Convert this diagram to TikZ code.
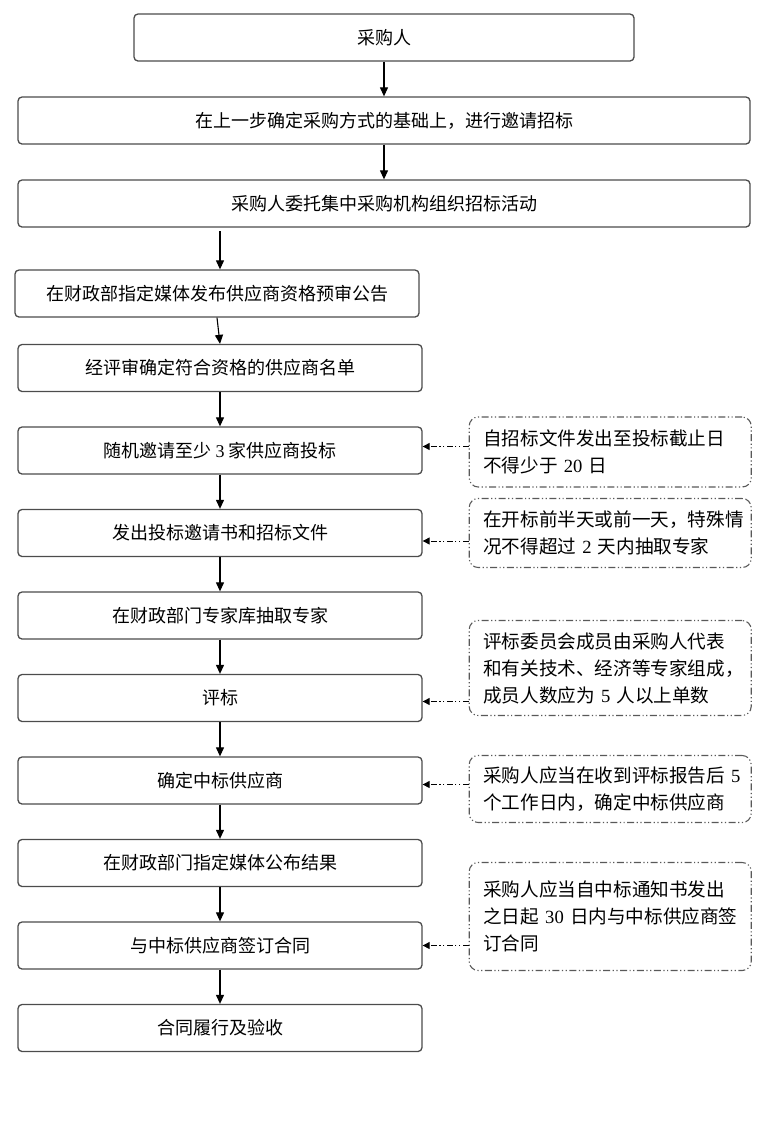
\documentclass[tikz,border=0pt]{standalone}
\usepackage{fontspec}
\setmainfont{Noto Sans CJK SC}
\newfontfamily\numfont{Liberation Serif}
\usepackage{tikz}
\usetikzlibrary{arrows.meta, positioning}

\begin{document}
\begin{tikzpicture}[
  x=1pt, y=-1pt,
  every path/.style={line width=1pt},
  link/.style={-{Triangle[length=9pt, width=8pt]}, black, line width=1.1pt},
  hint/.style={-{Triangle[length=7pt, width=7pt]}, black,
               dash pattern=on 6pt off 2.5pt on 1.2pt off 2.5pt on 1.2pt off 2.5pt},
  blk/.style={rectangle, rounded corners=4pt, draw=black!70, line width=1.3pt,
              minimum height=47pt, inner sep=0pt,
              font=\fontsize{18}{22}\selectfont},
  wide/.style={blk, minimum width=732pt},
  narrow/.style={blk, minimum width=404pt},
  note/.style={rectangle, rounded corners=9pt, draw=black!65, line width=1.1pt,
               dash pattern=on 7pt off 2.5pt on 1.2pt off 2.5pt on 1.2pt off 2.5pt,
               text width=254pt, inner xsep=14pt, inner ysep=0pt, align=left,
               font=\fontsize{18.6}{27}\selectfont},
]
\useasboundingbox (0,0) rectangle (768,1144);

% main column
\node[blk, minimum width=500pt] at (384,37.5) (s1)  {采购人};
\node[wide, below=34.7pt of s1]   (s2)  {在上一步确定采购方式的基础上，进行邀请招标};
\node[wide, below=34.7pt of s2]   (s3)  {采购人委托集中采购机构组织招标活动};
\node[narrow] at (217,293.5)    (s4)  {在财政部指定媒体发布供应商资格预审公告};
\node[narrow] at (220,368)      (s5)  {经评审确定符合资格的供应商名单};
\node[narrow, below=34.2pt of s5]  (s6)  {随机邀请至少 {\numfont 3} 家供应商投标};
\node[narrow, below=34.2pt of s6]  (s7)  {发出投标邀请书和招标文件};
\node[narrow, below=34.2pt of s7]  (s8)  {在财政部门专家库抽取专家};
\node[narrow, below=34.2pt of s8]  (s9)  {评标};
\node[narrow, below=34.2pt of s9]  (s10) {确定中标供应商};
\node[narrow, below=34.2pt of s10] (s11) {在财政部门指定媒体公布结果};
\node[narrow, below=34.2pt of s11] (s12) {与中标供应商签订合同};
\node[narrow, below=34.2pt of s12] (s13) {合同履行及验收};

% side notes
\node[note, minimum height=70pt, right=46pt of s6, yshift=-1.5pt] (n1)
  {自招标文件发出至投标截止日\\不得少于~{\numfont 20}~日};
\node[note, minimum height=69pt, right=46pt of s7] (n2)
  {在开标前半天或前一天，特殊情\\况不得超过~{\numfont 2}~天内抽取专家};
\node[note, minimum height=95pt, right=46pt of s9, yshift=30pt] (n3)
  {评标委员会成员由采购人代表\\和有关技术、经济等专家组成，\\成员人数应为~{\numfont 5}~人以上单数};
\node[note, minimum height=67pt, right=46pt of s10, yshift=-8.5pt] (n4)
  {采购人应当在收到评标报告后~{\numfont 5}\\个工作日内，确定中标供应商};
\node[note, minimum height=108pt, right=46pt of s12, yshift=29pt] (n5)
  {采购人应当自中标通知书发出\\之日起~{\numfont 30}~日内与中标供应商签\\订合同};

\coordinate (c3) at (220,231);

\draw[link] (s1) -- (s2);
\draw[link] (s2) -- (s3);
\draw[link] (c3) -- (c3 |- s4.north);
\draw[link] (s4.south) -- (s5.north);
\draw[link] (s5) -- (s6);
\draw[link] (s6) -- (s7);
\draw[link] (s7) -- (s8);
\draw[link] (s8) -- (s9);
\draw[link] (s9) -- (s10);
\draw[link] (s10) -- (s11);
\draw[link] (s11) -- (s12);
\draw[link] (s12) -- (s13);

\draw[hint] ([yshift=4pt]s6.east -| n1.west)   -- ([yshift=4pt]s6.east);
\draw[hint] ([yshift=-8pt]s7.east -| n2.west)  -- ([yshift=-8pt]s7.east);
\draw[hint] ([yshift=-3.5pt]s9.east -| n3.west) -- ([yshift=-3.5pt]s9.east);
\draw[hint] ([yshift=-4pt]s10.east -| n4.west) -- ([yshift=-4pt]s10.east);
\draw[hint] (s12.east -| n5.west) -- (s12.east);

\end{tikzpicture}
\end{document}
